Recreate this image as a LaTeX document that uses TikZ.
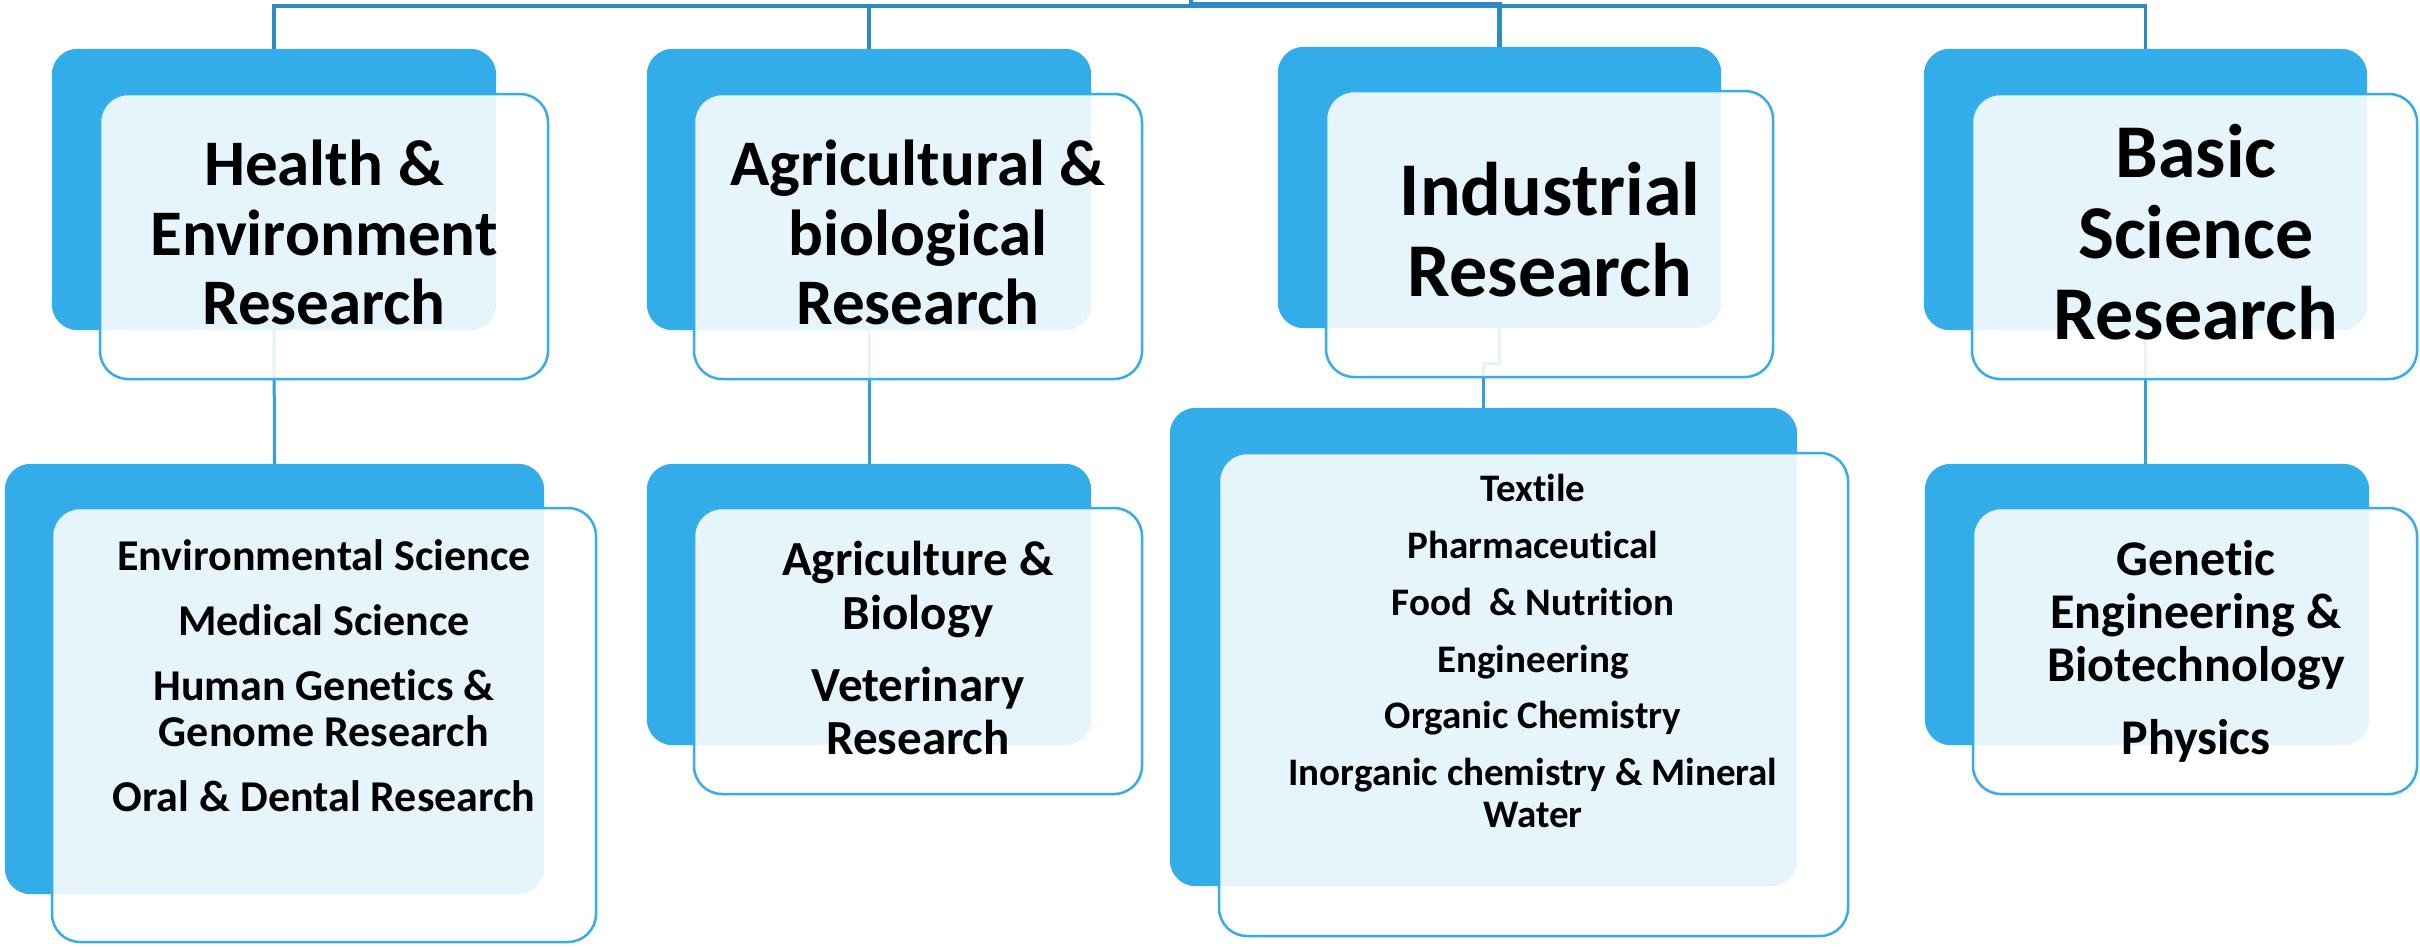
\documentclass[tikz,border=0pt]{standalone}
\usepackage{fontspec}
\setmainfont{Carlito}[Ligatures=NoCommon]
\usetikzlibrary{fit}
\definecolor{boxblue}{RGB}{51,172,234}
\definecolor{edgeblue}{RGB}{54,173,234}
\definecolor{linkblue}{RGB}{52,158,218}
\definecolor{busblue}{RGB}{46,138,196}
\tikzset{
 backbox/.style={draw=none, rounded corners=26pt, inner sep=0pt},
 frontbox/.style={fill=white, fill opacity=0.88, draw=edgeblue, line width=2.5pt, rounded corners=28pt, inner sep=0pt},
 link/.style={draw=linkblue, line width=3pt},
 bus/.style={draw=busblue, line width=3.5pt},
 lbl/.style={anchor=base, inner sep=0pt, text=black},
 tsmall/.style={lbl, font=\bfseries\fontsize{65}{70}\selectfont},
 tbig/.style={lbl, font=\bfseries\fontsize{76}{81}\selectfont},
 shealth/.style={lbl, font=\bfseries\fontsize{44}{46}\selectfont},
 sagri/.style={lbl, font=\bfseries\fontsize{49}{54}\selectfont},
 sind/.style={lbl, font=\bfseries\fontsize{39}{42}\selectfont},
 sbasic/.style={lbl, font=\bfseries\fontsize{50}{53}\selectfont},
}
\begin{document}
\begin{tikzpicture}[x=1pt,y=-1pt]
\fill[white] (0,0) rectangle (2420,946);
\useasboundingbox (0,0) rectangle (2420,946);

% back boxes (nodes, so connectors can refer to them)
\path
 node[backbox, fit={(52,49) (496,330)}] (hTB) {}
 node[backbox, fit={(647,49) (1091,330)}] (aTB) {}
 node[backbox, fit={(1278,47) (1721,328)}] (iTB) {}
 node[backbox, fit={(1924,49) (2367,330)}] (bTB) {}
 node[backbox, fit={(5,464) (544,894)}] (hBB) {}
 node[backbox, fit={(647,464) (1091,745)}] (aBB) {}
 node[backbox, fit={(1170,408) (1797,886)}] (iBB) {}
 node[backbox, fit={(1925,464) (2369,745)}] (bBB) {};

% connectors (behind the boxes)
\coordinate (root) at (1191,-2);
\coordinate (bus) at (1191,6);
\draw[bus] (root) -- (bus) -| (hTB.north);
\draw[bus] (bus) -| (aTB.north);
\draw[bus, line width=5pt] (1191,4.5) -| (iTB.north);
\draw[bus] (bus) -| (bTB.north);
\draw[link] (hTB.south) -- (hBB.north);
\draw[link] (aTB.south) -- (aTB.south |- aBB.north);
\draw[link] (iTB.south) -- ++(0,35) -| (iBB.north);
\draw[link] (bTB.south) -- (bTB.south |- bBB.north);

% back box fills over connectors
\foreach \n in {hTB,aTB,iTB,bTB,hBB,aBB,iBB,bBB}
  \fill[boxblue, rounded corners=26pt] (\n.south west) rectangle (\n.north east);

% front boxes
\node[frontbox, fit={(100,94) (548,379)}] (hTF) {};
\node[frontbox, fit={(694,94) (1142,379)}] (aTF) {};
\node[frontbox, fit={(1326,91) (1773,377)}] (iTF) {};
\node[frontbox, fit={(1972,94) (2417,379)}] (bTF) {};
\node[frontbox, fit={(52,508) (596,942)}] (hBF) {};
\node[frontbox, fit={(694,508) (1142,794)}] (aBF) {};
\node[frontbox, fit={(1219,453) (1848,936)}] (iBF) {};
\node[frontbox, fit={(1973,508) (2417,794)}] (bBF) {};

% titles
\foreach \t/\y [count=\i] in {Health \&/185, Environment/255, Research/324}
  \node[tsmall] (ht\i) at (324,\y) {\t};
\foreach \t/\y [count=\i] in {Agricultural \&/185, biological/255, Research/324}
  \node[tsmall] (at\i) at (918,\y) {\t};
\foreach \t/\y [count=\i] in {Industrial/215, Research/296}
  \node[tbig] (it\i) at (1550,\y) {\t};
\foreach \t/\y [count=\i] in {Basic/177, Science/258, Research/339}
  \node[tbig] (bt\i) at (2196,\y) {\t};

% sub-topics
\foreach \t/\y [count=\i] in {Environmental Science/570, Medical Science/635, Human Genetics \&/700, Genome Research/746, Oral \& Dental Research/811}
  \node[shealth] (hs\i) at (324,\y) {\t};
\foreach \t/\y [count=\i] in {Agriculture \&/575, Biology/629, Veterinary/701, Research/754}
  \node[sagri] (as\i) at (918,\y) {\t};
\foreach \t/\y [count=\i] in {Textile/501, Pharmaceutical/558, Food\ \ \& Nutrition/615, Engineering/672, Organic Chemistry/728, Inorganic chemistry \& Mineral/785, Water/827}
  \node[sind] (is\i) at (1533,\y) {\t};
\foreach \t/\y [count=\i] in {Genetic/575, Engineering \&/628, Biotechnology/681, Physics/754}
  \node[sbasic] (bs\i) at (2196,\y) {\t};
\end{tikzpicture}
\end{document}
